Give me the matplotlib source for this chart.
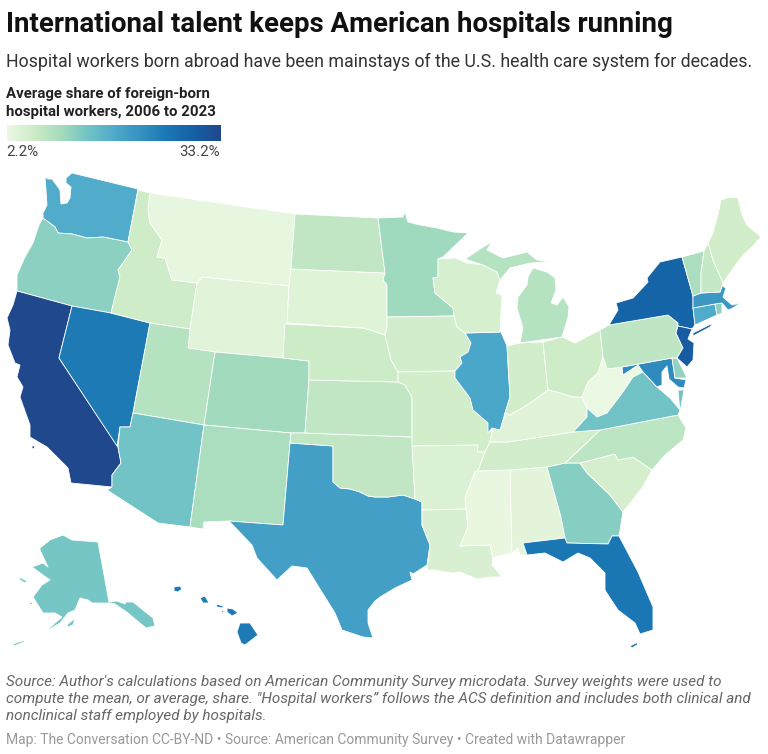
import numpy as np
import matplotlib
matplotlib.use("Agg")
import matplotlib.pyplot as plt
from matplotlib.colors import LinearSegmentedColormap, Normalize
from matplotlib.patches import Polygon

plt.rcParams['font.family'] = ['Roboto', 'DejaVu Sans']

TITLE = "International talent keeps American hospitals running"
SUBTITLE = "Hospital workers born abroad have been mainstays of the U.S. health care system for decades."
LEGEND_TITLE = ["Average share of foreign-born", "hospital workers, 2006 to 2023"]
LEGEND_MIN, LEGEND_MAX = 2.2, 33.2
NOTES = ["Source: Author's calculations based on American Community Survey microdata. Survey weights were used to",
         "compute the mean, or average, share. \"Hospital workers\u201d follows the ACS definition and includes both clinical and",
         "nonclinical staff employed by hospitals."]
CREDIT = "Map: The Conversation CC-BY-ND \u2022 Source: American Community Survey \u2022 Created with Datawrapper"

# average share of foreign-born hospital workers
shares = dict(CA=33, NJ=30, NY=28.5, FL=25.5, NV=25, HI=25, MD=22.5, MA=20.5, TX=19.5, IL=18.2, WA=17.5,
              CT=17.5, AZ=14, AK=13.5, VA=14, GA=12.3, OR=12, RI=12, DE=11.5, MN=10.5, CO=10.3,
              NM=9.5, VT=9.5, UT=8.5, MI=8.5, NC=7.8, PA=7.6, ND=7.4, KS=7.5, OK=7.5, NH=7, NE=6.2,
              ID=6, OH=6, IN=5.6, ME=5.6, IA=5.5, MO=5.8, TN=5.5, SC=5.2, WI=5, AR=4.5, LA=4.8,
              KY=3.8, SD=4, WY=3.7, AL=3.5, MT=2.9, MS=2.6, WV=2.4)

# simplified state outlines (map coordinates)
outlines = {
 'WA': [[(45,177),(48,179),(52,179),(58,187),(60,190),(61,204),(67,203),(70,198),(71,187),(66,183),(66,178),(72,173),(138,189),(128,242),(103,237),(87,238),(72,234),(58,233),(55,227),(43,218),(43,213),(47,205),(46,190)]],
 'OR': [[(43,218),(55,227),(58,233),(72,234),(87,238),(103,237),(128,242),(132,250),(118,270),(120,277),(111,313),(72,306),(17,291),(17,275),(25,257),(33,243),(39,225)]],
 'CA': [[(17,291),(72,306),(59,358),(118,447),(121,463),(112,475),(112,487),(71,483),(68,468),(58,458),(47,447),(30,437),(30,425),(20,397),(23,387),(17,377),(20,365),(15,363),(8,345),(10,330),(7,318),(13,305)],
        [(32,446),(35,446),(34,449),(32,448)]],
 'NV': [[(72,306),(111,313),(150,323),(133,413),(130,427),(120,427),(117,446),(59,358)]],
 'ID': [[(138,190),(150,193),(148,210),(150,223),(162,240),(157,257),(165,258),(172,280),(197,283),(190,329),(150,323),(111,313),(120,277),(118,270),(132,250),(128,242)]],
 'MT': [[(150,193),(295,214),(291,269),(289,286),(202,277),(197,283),(172,280),(165,258),(157,257),(162,240),(150,223),(148,210)]],
 'WY': [[(202,277),(289,286),(287,323),(283,358),(215,352),(188,348),(190,329),(197,283)]],
 'UT': [[(150,323),(190,329),(188,348),(215,352),(204,425),(133,413)]],
 'CO': [[(215,352),(283,358),(309,361),(309,380),(305,433),(291,433),(204,425)]],
 'AZ': [[(133,413),(204,425),(190,527),(158,523),(107,490),(112,487),(112,475),(121,463),(118,447),(120,427),(130,427)]],
 'NM': [[(204,425),(291,433),(290,443),(283,525),(229,521),(204,522),(203,529),(190,527)]],
 'TX': [[(290,443),(333,446),(333,482),(340,488),(350,489),(360,492),(368,496),(375,497),(388,497),(403,495),(415,499),(422,502),(422,525),(430,545),(427,565),(413,574),(410,572),(412,580),(395,588),(380,597),(375,601),(368,610),(368,623),(373,638),(363,637),(342,630),(335,613),(320,589),(307,568),(292,566),(277,580),(257,558),(252,545),(229,521),(283,525)]],
 'OK': [[(291,433),(305,433),(412,437),(415,499),(403,495),(388,497),(375,497),(368,496),(360,492),(350,489),(340,488),(333,482),(333,446),(290,443)]],
 'KS': [[(309,380),(398,382),(405,385),(412,397),(412,437),(305,433)]],
 'NE': [[(285,324),(363,328),(370,330),(385,335),(391,360),(398,372),(398,382),(309,380),(309,361),(283,358)]],
 'SD': [[(291,269),(385,273),(383,280),(387,285),(387,317),(387,328),(385,335),(370,330),(363,328),(287,323),(289,286)]],
 'ND': [[(295,214),(378,218),(385,273),(291,269)]],
 'MN': [[(378,218),(403,217),(405,212),(408,222),(420,225),(437,228),(453,232),(468,233),(443,257),(438,259),(438,277),(433,278),(435,293),(453,308),(454,316),(387,317),(387,285),(383,280),(385,273)]],
 'IA': [[(387,317),(454,316),(457,327),(465,333),(471,343),(468,352),(460,357),(462,363),(455,371),(398,372),(391,360),(385,335),(387,328)]],
 'MO': [[(398,372),(455,371),(455,378),(470,398),(473,410),(488,423),(492,433),(490,442),(485,452),(477,452),(478,445),(412,446),(412,397),(405,385),(398,382)]],
 'AR': [[(412,446),(478,445),(477,452),(485,452),(478,471),(475,472),(465,498),(466,509),(422,510),(422,502),(415,499)]],
 'LA': [[(422,510),(466,509),(468,527),(460,546),(490,545),(493,558),(492,565),(502,577),(492,577),(477,579),(460,572),(453,573),(433,570),(427,570),(430,545),(422,525)]],
 'MS': [[(478,471),(510,470),(512,553),(496,557),(493,558),(490,545),(460,546),(468,527),(465,498),(475,472)]],
 'AL': [[(510,470),(547,467),(561,517),(565,538),(523,543),(527,555),(520,555),(518,548),(512,553)]],
 'GA': [[(547,467),(565,463),(580,463),(587,473),(610,495),(623,512),(619,536),(612,536),(608,544),(567,543),(565,538),(561,517)]],
 'FL': [[(523,543),(565,538),(567,543),(608,544),(612,536),(619,536),(638,572),(653,607),(653,630),(640,634),(635,623),(618,610),(610,598),(605,590),(605,573),(590,558),(578,553),(563,562),(545,553),(527,555)],
        [(630,646),(638,642),(637,645),(632,648)]],
 'SC': [[(580,463),(615,454),(618,460),(633,457),(652,470),(642,488),(623,512),(610,495),(587,473)]],
 'NC': [[(565,463),(577,452),(600,430),(678,415),(686,428),(683,440),(665,455),(652,470),(633,457),(618,460),(615,454),(580,463)]],
 'TN': [[(478,471),(510,470),(547,467),(565,463),(577,452),(600,430),(573,432),(508,442),(490,442),(485,452)]],
 'KY': [[(490,442),(508,442),(573,432),(587,417),(587,408),(582,397),(573,397),(557,392),(548,390),(527,405),(510,415),(505,413),(500,430),(492,428),(492,433)]],
 'IL': [[(465,333),(501,332),(507,346),(510,397),(505,413),(500,430),(492,428),(488,433),(488,423),(473,410),(470,398),(455,378),(455,371),(462,363),(460,357),(468,352),(471,343)]],
 'IN': [[(507,346),(520,343),(543,342),(548,390),(527,405),(510,415),(505,413),(510,397)]],
 'OH': [[(543,342),(562,337),(575,343),(600,330),(603,357),(598,373),(588,382),(582,397),(573,397),(557,392),(548,390)]],
 'WV': [[(603,357),(607,369),(622,367),(623,375),(638,365),(643,372),(633,377),(623,392),(607,413),(597,417),(587,408),(582,397),(588,382),(598,373)]],
 'VA': [[(597,417),(607,413),(623,392),(633,377),(643,372),(657,387),(670,398),(680,410),(678,415),(600,430),(573,432),(587,417),(587,408)],
        [(678,390),(684,390),(680,412)]],
 'MD': [[(622,367),(672,358),(675,378),(686,380),(684,388),(678,387),(669,379),(667,366),(662,372),(662,385),(657,387),(643,372),(638,365),(623,375)]],
 'DE': [[(672,358),(677,358),(687,378),(675,378)]],
 'PA': [[(600,330),(609,325),(668,315),(678,323),(676,333),(683,348),(677,358),(672,358),(622,367),(607,369),(603,357)]],
 'NY': [[(609,325),(618,310),(616,303),(633,298),(648,282),(647,278),(660,262),(682,257),(693,296),(693,308),(695,325),(692,329),(678,326),(678,323),(668,315)],
        [(693,333),(713,323),(710,327),(693,336)]],
 'NJ': [[(678,326),(692,329),(688,339),(694,343),(693,360),(687,367),(677,358),(683,348),(676,333)]],
 'CT': [[(693,308),(715,304),(717,315),(695,325)]],
 'RI': [[(715,304),(722,303),(722,313),(717,315)]],
 'MA': [[(693,296),(701,293),(720,292),(722,286),(726,288),(723,297),(732,305),(740,303),(733,308),(728,310),(722,303),(715,304),(693,308)]],
 'VT': [[(682,257),(704,251),(701,273),(701,293),(693,296)]],
 'NH': [[(708,243),(713,260),(723,283),(720,292),(701,293),(701,273),(704,251)]],
 'ME': [[(708,243),(713,233),(719,210),(721,200),(730,197),(738,198),(742,215),(747,225),(761,237),(752,247),(743,255),(732,270),(723,283),(713,260)]],
 'WI': [[(438,259),(455,258),(467,263),(483,265),(497,272),(500,280),(496,293),(502,295),(500,332),(465,333),(457,327),(454,316),(453,308),(435,293),(433,278),(438,277)]],
 'MI': [[(465,259),(483,247),(492,242),(487,250),(503,258),(527,252),(537,260),(549,262),(530,263),(510,268),(500,280),(497,272),(483,265)],
        [(533,268),(547,272),(555,278),(556,290),(551,303),(557,305),(563,297),(569,307),(568,317),(562,337),(520,343),(523,328),(517,308),(518,297),(527,285),(528,277)]],
 'AK': [[(40,548),(50,540),(63,535),(72,540),(98,542),(109,602),(117,601),(125,604),(126,602),(133,602),(153,618),(155,626),(146,628),(128,613),(115,604),(110,603),(92,603),(88,600),(80,598),(75,610),(68,613),(60,623),(43,633),(30,639),(47,630),(62,617),(55,613),(43,613),(33,597),(42,585),(50,580),(43,575),(32,567),(43,563),(48,567),(40,550)],
        [(13,644),(25,640),(24,642),(14,646)],[(67,625),(75,618),(73,625),(68,627)],[(19,577),(27,581),(25,583),(20,580)],[(28,602),(33,603),(31,605)]],
 'HI': [[(240,623),(250,623),(258,635),(245,645),(241,643),(237,632)],[(227,608),(233,609),(238,613),(232,616),(227,612)],
        [(216,604),(223,606),(223,608),(217,607)],[(220,610),(224,611),(223,613)],[(200,598),(205,596),(209,603),(203,603)],
        [(174,587),(180,586),(182,589),(178,592),(174,591)]],
}

cmap = LinearSegmentedColormap.from_list('share', [
    (0.00, '#ecf8e4'), (0.12, '#cfecc8'), (0.25, '#a6dcbd'), (0.37, '#74c5c5'),
    (0.50, '#4fabcb'), (0.75, '#1b77b4'), (0.88, '#155fa4'), (1.00, '#20478c')])
norm = Normalize(LEGEND_MIN, LEGEND_MAX)

fig = plt.figure(figsize=(7.68, 7.54), dpi=100, facecolor='white')
ax = fig.add_axes([0, 0, 1, 1])
ax.axis('off')

for state, parts in outlines.items():
    for part in parts:
        ax.add_patch(Polygon(part, closed=True, facecolor=cmap(norm(shares[state])),
                             edgecolor='white', linewidth=0.6, joinstyle='round'))

ax.text(6, 32, TITLE, fontsize=19.9, fontweight='bold', color='#111111', va='baseline')
ax.text(6, 67, SUBTITLE, fontsize=12.77, color='#333333', va='baseline')
ax.text(6, 98, LEGEND_TITLE[0], fontsize=10.85, fontweight='bold', color='#222222', va='baseline')
ax.text(6, 116, LEGEND_TITLE[1], fontsize=10.85, fontweight='bold', color='#222222', va='baseline')
grad = np.linspace(0, 1, 256).reshape(1, -1)
ax.imshow(grad, cmap=cmap, extent=(6.5, 220, 141, 125), aspect='auto', zorder=2)
ax.set_xlim(0, 768)
ax.set_ylim(754, 0)
ax.text(6, 156, f"{LEGEND_MIN}%", fontsize=10.9, color='#444444', va='baseline')
ax.text(220, 156, f"{LEGEND_MAX}%", fontsize=10.9, color='#444444', va='baseline', ha='right')
for y, line in zip((686, 703, 720), NOTES):
    ax.text(6, y, line, fontsize=10.98, style='italic', color='#666666', va='baseline')
ax.text(6, 744, CREDIT, fontsize=9.97, color='#999999', va='baseline')

fig.savefig('out.png', dpi=100, facecolor='white')
